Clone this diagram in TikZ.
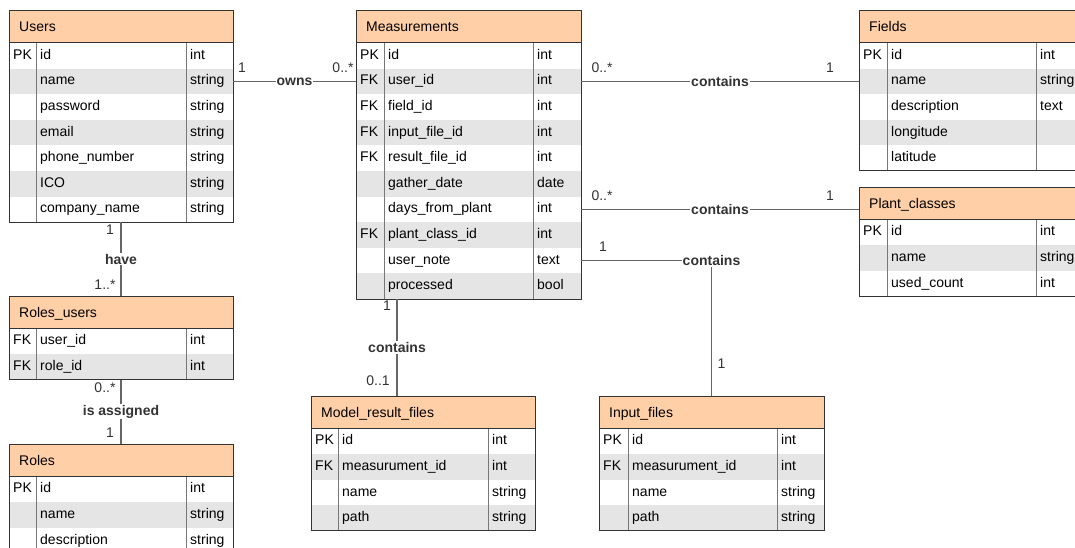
\documentclass[tikz,border=0pt]{standalone}
\usepackage{fontspec}
\setmainfont{Liberation Sans}
\usetikzlibrary{positioning,calc}

\definecolor{headfill}{HTML}{FFD0A8}
\definecolor{rowgrey}{HTML}{E5E5E5}
\definecolor{framecol}{HTML}{333333}
\definecolor{colcol}{HTML}{777777}
\definecolor{linkcol}{HTML}{666666}
\definecolor{labelcol}{HTML}{333333}

\begin{document}
\begin{tikzpicture}[x=1pt,y=-1pt] % ER DIAGRAM
\newcommand\DrawTable[8]{% name, left, top, right, key col, type col, title, rows
  \pgfmathsetmacro\tabw{#4-#2}
  \node[header, minimum width=\tabw pt] (#1) at (#2,#3) {};
  \node[title] (#1-title) at (#2+10,#3+\headH/2+5) {#7};
  \foreach \k/\n/\t [count=\i] in {#8} {
    \pgfmathsetmacro\ytop{#3+\headH+(\i-1)*\rowH}
    \pgfmathtruncatemacro\odd{mod(\i,2)}
    \ifnum\odd=1 \def\rowcol{white}\else\def\rowcol{rowgrey}\fi
    \node[tabrow, fill=\rowcol, minimum width=\tabw pt] (#1-\i) at (#2,\ytop) {};
    \node[cell] (#1-\i-key) at (#2+4,\ytop+\rowH/2+3.5) {\k};
    \node[cell] (#1-\i-name) at (#5+4,\ytop+\rowH/2+3.5) {\n};
    \node[cell] (#1-\i-type) at (#6+4,\ytop+\rowH/2+3.5) {\t};
    \draw[colline] (#5,\ytop) -- (#5,\ytop+\rowH);
    \draw[colline] (#6,\ytop) -- (#6,\ytop+\rowH);
    \xdef\lastrow{\i}
  }
  \draw[frame] (#1.north west) rectangle (#1-\lastrow.south east);
  \draw[frame] (#1.south west) -- (#1.south east);
}

\tikzset{%
  font=\fontsize{14}{16}\selectfont,
  header/.style={draw=framecol, fill=headfill, line width=1pt, anchor=north west,
    minimum height=\headH pt, inner sep=0pt, outer sep=0pt},
  title/.style={anchor=base west, inner sep=0pt},
  tabrow/.style={anchor=north west, minimum height=\rowH pt, inner sep=0pt, outer sep=0pt},
  cell/.style={anchor=base west, inner sep=0pt},
  colline/.style={draw=colcol, line width=1pt},
  frame/.style={draw=framecol, line width=1pt},
  link/.style={draw=linkcol, line width=1.2pt},
  verb/.style={fill=white, inner sep=1pt, text=labelcol, font=\fontsize{14}{16}\selectfont\bfseries},
  mult/.style={inner sep=0pt, text=labelcol}
}
%% some definitions

\def\headH{32.5} % header height
\def\rowH{25.6} % row height

\useasboundingbox (0,0) rectangle (1075,548);
\clip (0,0) rectangle (1075,548);

%% tables

\DrawTable{users}{9}{10.5}{233}{36}{186}{Users}{PK/id/int, /name/string,
  /password/string, /email/string, /phone\_number/string, /ICO/string,
  /company\_name/string}
\DrawTable{meas}{356}{10.5}{581}{384}{533}{Measurements}{PK/id/int,
  FK/user\_id/int, FK/field\_id/int, FK/input\_file\_id/int,
  FK/result\_file\_id/int, /gather\_date/date, /days\_from\_plant/int,
  FK/plant\_class\_id/int, /user\_note/text, /processed/bool}
\DrawTable{fields}{859}{10.5}{1083}{887}{1036}{Fields}{PK/id/int,
  /name/string, /description/text, /longitude/{}, /latitude/{}}
\DrawTable{plant}{859}{187}{1083}{887}{1036}{Plant\_classes}{PK/id/int,
  /name/string, /used\_count/int}
\DrawTable{ruser}{9}{296}{233}{36}{186}{Roles\_users}{FK/user\_id/int,
  FK/role\_id/int}
\DrawTable{roles}{9}{444}{233}{36}{186}{Roles}{PK/id/int, /name/string,
  /description/string}
\DrawTable{model}{311}{396}{535}{338}{488}{Model\_result\_files}{PK/id/int,
  FK/measurument\_id/int, /name/string, /path/string}
\DrawTable{input}{599}{396}{824}{628}{777}{Input\_files}{PK/id/int,
  FK/measurument\_id/int, /name/string, /path/string}

%% relations

\coordinate (meas-foot) at ([xshift=41pt]meas-10.south west);

\draw[link] (users-2.east) -- node[verb] (owns) {owns}
  node[mult, pos=0, xshift=9pt, yshift=14pt] {1}
  node[mult, pos=1, xshift=-13pt, yshift=14pt] {0..*} (meas-2.west);
\draw[link] (meas-2.east) -- node[verb] (has-field) {contains}
  node[mult, pos=0, xshift=21pt, yshift=14pt] {0..*}
  node[mult, pos=1, xshift=-29pt, yshift=14pt] {1} (fields-2.west);
\draw[link] (meas-7.east) -- node[verb] (has-plant) {contains}
  node[mult, pos=0, xshift=21pt, yshift=14pt] {0..*}
  node[mult, pos=1, xshift=-29pt, yshift=14pt] {1} (meas-7.east -| plant.west);
\draw[link] (meas-9.east) -| node[verb] (has-input) {contains}
  node[mult, pos=0, xshift=22pt, yshift=14pt] {1}
  node[mult, pos=1, xshift=10pt, yshift=32pt] {1} (input.north);
\draw[link] (meas-foot) -- node[verb] (has-model) {contains}
  node[mult, pos=0, xshift=-10pt, yshift=-7pt] {1}
  node[mult, pos=1, xshift=-19pt, yshift=15pt] {0..1} (meas-foot |- model.north);
\draw[link] (users-7.south) -- node[verb] (have) {have}
  node[mult, pos=0, xshift=-11pt, yshift=-7pt] {1}
  node[mult, pos=1, xshift=-16pt, yshift=11pt] {1..*} (ruser.north);
\draw[link] (ruser-2.south) -- node[verb] (assigned) {is assigned}
  node[mult, pos=0, xshift=-16pt, yshift=-8pt] {0..*}
  node[mult, pos=1, xshift=-11pt, yshift=11pt] {1} (roles.north);
\end{tikzpicture}
\end{document}
